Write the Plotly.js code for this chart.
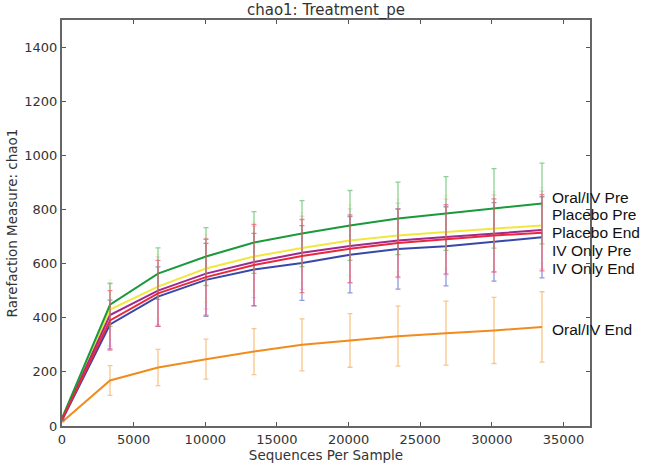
<!DOCTYPE html>
<html>
<head>
<meta charset="utf-8">
<script src="https://cdn.plot.ly/plotly-3.0.1.min.js"></script>
<style>html,body{margin:0;padding:0;background:#fff;}#chart{width:650px;height:463px;}</style>
</head>
<body>
<div id="chart"></div>
<script>
// Sequences per sample (rarefaction depths)
const depths = [10, 3350, 6700, 10050, 13400, 16750, 20100, 23450, 26800, 30150, 33500];

// Series names (in label order, top to bottom)
const seriesNames = ["Oral/IV Pre", "Placebo Pre", "Placebo End", "IV Only Pre", "IV Only End", "Oral/IV End"];

// Mean chao1 values
const oralIvPre   = [30, 448, 563, 626, 678, 711, 741, 767, 785, 804, 822];
const placeboPre  = [28, 430, 515, 582, 626, 658, 685, 704, 717, 728, 741];
const placeboEnd  = [25, 410, 500, 563, 606, 640, 665, 685, 698, 712, 724];
const ivOnlyPre   = [25, 390, 490, 550, 595, 628, 655, 676, 690, 704, 714];
const ivOnlyEnd   = [22, 375, 478, 540, 578, 602, 633, 654, 664, 680, 697];
const oralIvEnd   = [15, 168, 216, 247, 275, 300, 316, 332, 343, 353, 366];

// Error bar half-widths (std dev)
const oralIvPreErr  = [0, 80, 95, 107, 114, 122, 129, 134, 136, 147, 149];
const placeboPreErr = [0, 110, 120, 125, 128, 130, 132, 134, 136, 138, 140];
const placeboEndErr = [0, 115, 125, 130, 132, 135, 137, 138, 140, 142, 144];
const ivOnlyPreErr  = [0, 110, 122, 140, 150, 135, 125, 125, 128, 135, 141];
const ivOnlyEndErr  = [0, 90, 110, 135, 134, 138, 141, 148, 146, 145, 150];
const oralIvEndErr  = [0, 55, 67, 74, 85, 96, 99, 111, 118, 122, 130];

function tr(name, y, err, color, errColor) {
  return {
    type: 'scatter', mode: 'lines', name: name,
    x: depths, y: y,
    line: {color: color, width: 2},
    error_y: {type: 'data', array: err, visible: true, color: errColor, thickness: 1.3, width: 2.5},
    hoverinfo: 'skip'
  };
}

const data = [
  tr(seriesNames[5], oralIvEnd, oralIvEndErr, '#f08c1e', 'rgba(245,160,60,0.6)'),
  tr(seriesNames[4], ivOnlyEnd, ivOnlyEndErr, '#3848a8', 'rgba(70,80,200,0.6)'),
  tr(seriesNames[1], placeboPre, placeboPreErr, '#f2e640', 'rgba(240,225,70,0.25)'),
  tr(seriesNames[2], placeboEnd, placeboEndErr, '#a02a8c', 'rgba(200,90,170,0.25)'),
  tr(seriesNames[0], oralIvPre, oralIvPreErr, '#1a9a3c', 'rgba(60,180,80,0.6)'),
  tr(seriesNames[3], ivOnlyPre, ivOnlyPreErr, '#e8283c', 'rgba(245,90,115,0.75)')
];

const labelY = [197, 214.5, 232, 250, 268, 329];
const annotations = seriesNames.map((n, i) => ({
  text: n, xref: 'paper', yref: 'paper',
  x: (550 - 62) / 528, y: (426 - labelY[i]) / 406,
  xanchor: 'left', yanchor: 'middle', showarrow: false,
  font: {family: 'Liberation Sans, Arial, sans-serif', size: 15.5, color: '#111'}
}));

const axisCommon = {
  showline: true, linecolor: '#666', linewidth: 2, mirror: 'ticks',
  ticks: 'inside', ticklen: 4, tickcolor: '#555', tickwidth: 1,
  showgrid: false, zeroline: false,
  tickfont: {family: 'DejaVu Sans, sans-serif', size: 13, color: '#333'}
};

const layout = {
  width: 650, height: 463,
  margin: {l: 62, r: 60, t: 20, b: 37},
  paper_bgcolor: '#fff', plot_bgcolor: '#fff',
  showlegend: false,
  title: {text: 'chao1: Treatment_pe', x: 0.5, xref: 'paper', y: 0.979, yref: 'container', yanchor: 'middle',
          font: {family: 'DejaVu Sans, sans-serif', size: 15, color: '#333'}},
  xaxis: Object.assign({}, axisCommon, {
    range: [0, 36850], tickvals: [0, 5000, 10000, 15000, 20000, 25000, 30000, 35000],
    ticktext: ['0', '5000', '10000', '15000', '20000', '25000', '30000', '35000'],
    title: {text: 'Sequences Per Sample', standoff: 3, font: {family: 'DejaVu Sans, sans-serif', size: 13.5, color: '#333'}}
  }),
  yaxis: Object.assign({}, axisCommon, {
    range: [0, 1500], tickvals: [0, 200, 400, 600, 800, 1000, 1200, 1400],
    ticktext: ['0', '200', '400', '600', '800', '1000', '1200', '1400'],
    title: {text: 'Rarefaction Measure: chao1', standoff: 4, font: {family: 'DejaVu Sans, sans-serif', size: 13.5, color: '#333'}}
  }),
  annotations: annotations
};

Plotly.newPlot('chart', data, layout, {displayModeBar: false, staticPlot: true});
</script>
</body>
</html>
